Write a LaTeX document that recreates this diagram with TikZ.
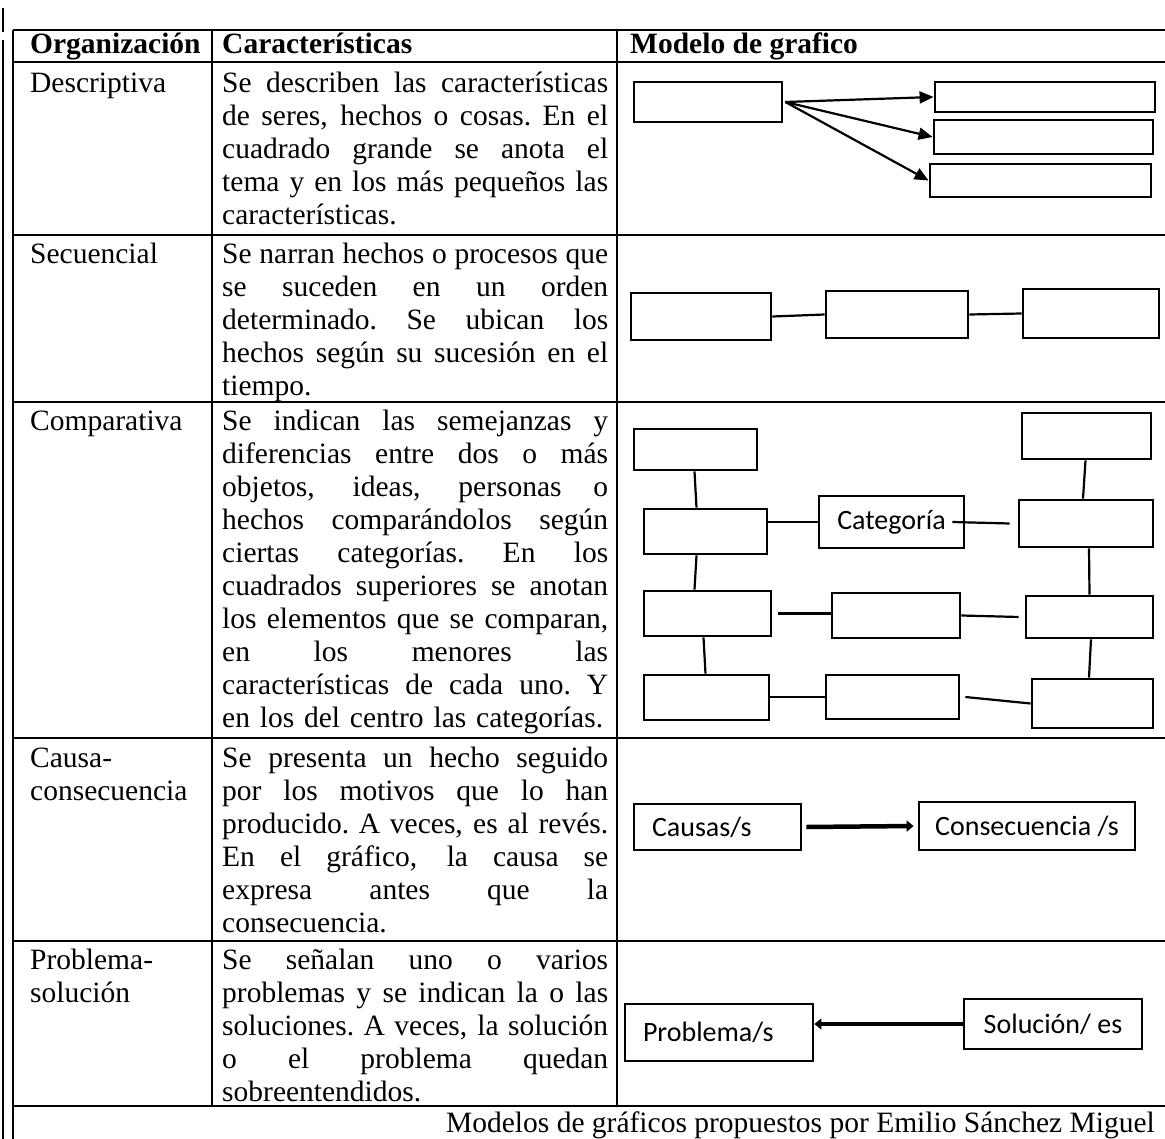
\documentclass[tikz,border=0pt]{standalone}
\usepackage{fontspec}
\setmainfont{Liberation Serif}
\newfontfamily\calib{Carlito}
\usetikzlibrary{arrows.meta}
\newcommand\jl[1]{\noindent\hbox to 386pt{\spaceskip=0.25em plus 1fil minus 0.12em\xspaceskip=\spaceskip #1}\par}
\newcommand\lastl[1]{\noindent\hbox{#1}\par}
\begin{document}
\begin{tikzpicture}[x=1pt,y=-1pt,
  grid/.style={line width=1.8pt},
  bx/.style={draw, line width=2.8pt, inner sep=0pt, font=\calib\fontsize{28}{30}\selectfont},
  conn/.style={line width=2.2pt},
  arrA/.style={line width=2.2pt, -{Triangle[length=14pt,width=12pt]}},
  arrB/.style={line width=4.5pt, -{Triangle[length=7pt,width=11pt]}},
  hd/.style={anchor=base west, inner sep=0pt, font=\bfseries\fontsize{29.5}{33}\selectfont},
  lab/.style={anchor=base west, inner sep=0pt, text width=178pt, align=left, font=\fontsize{29.5}{33}\selectfont},
  body/.style={anchor=base west, inner sep=0pt, text width=386pt, align=left, font=\fontsize{29.5}{33}\selectfont}
]
\useasboundingbox (0,0) rectangle (1165,1139);
% ---------- table frame
\draw[grid] (3,8) -- (3,32);
\draw[grid] (3,40) -- (3,1139);
\foreach \yy in {30,62,235,402,738,941,1106}{\draw[grid] (13,\yy) -- (1165,\yy);}
\draw[grid] (13,30) -- (13,1139);
\draw[grid] (212,30) -- (212,1106);
\draw[grid] (617,30) -- (617,1106);
% ---------- header
\node[hd] (h1) at (30,54) {Organización};
\node[hd] (h2) at (222,54) {Características};
\node[hd] (h3) at (630,54) {Modelo de grafico};
% ---------- column 1
\node[lab] (l1) at (30,93) {Descriptiva};
\node[lab] (l2) at (30,264) {Secuencial};
\node[lab] (l3) at (30,431) {Comparativa};
\node[lab] (l4) at (30,767) {Causa-\\consecuencia};
\node[lab] (l5) at (30,969) {Problema-\\solución};
% ---------- column 2
\node[body] (t1) at (222,93) {\jl{Se describen las características}\jl{de seres, hechos o cosas. En el}\jl{cuadrado grande se anota el}\jl{tema y en los más pequeños las}\lastl{características.}};
\node[body] (t2) at (222,264) {\jl{Se narran hechos o procesos que}\jl{se suceden en un orden}\jl{determinado. Se ubican los}\jl{hechos según su sucesión en el}\lastl{tiempo.}};
\node[body] (t3) at (222,431) {\jl{Se indican las semejanzas y}\jl{diferencias entre dos o más}\jl{objetos, ideas, personas o}\jl{hechos comparándolos según}\jl{ciertas categorías. En los}\jl{cuadrados superiores se anotan}\jl{los elementos que se comparan,}\jl{en los menores las}\jl{características de cada uno. Y}\lastl{en los del centro las categorías.}};
\node[body] (t4) at (222,767) {\jl{Se presenta un hecho seguido}\jl{por los motivos que lo han}\jl{producido. A veces, es al revés.}\jl{En el gráfico, la causa se}\jl{expresa antes que la}\lastl{consecuencia.}};
\node[body] (t5) at (222,969) {\jl{Se señalan uno o varios}\jl{problemas y se indican la o las}\jl{soluciones. A veces, la solución}\jl{o el problema quedan}\lastl{sobreentendidos.}};
% ---------- footer
\node[hd, anchor=base east, font=\fontsize{29.5}{33}\selectfont] (ft) at (1155,1132) {Modelos de gráficos propuestos por Emilio Sánchez Miguel};
% ---------- Descriptiva model
\node[bx, minimum width=148pt, minimum height=40pt] (d0) at (708,102) {};
\node[bx, minimum width=220pt, minimum height=30pt] (d1) at (1045,97) {};
\node[bx, minimum width=219pt, minimum height=34pt] (d2) at (1043.5,137) {};
\node[bx, minimum width=221pt, minimum height=33pt] (d3) at (1040.5,180.5) {};
\coordinate (ds) at ([xshift=2pt]d0.east);
\draw[arrA] (ds) -- (d1.west);
\draw[arrA] (ds) -- (d2.west);
\draw[arrA] (ds) -- (d3.west);
% ---------- Secuencial model
\node[bx, minimum width=140pt, minimum height=47pt] (s1) at (701,316.5) {};
\node[bx, minimum width=142pt, minimum height=47pt] (s2) at (897,314.5) {};
\node[bx, minimum width=136pt, minimum height=49pt] (s3) at (1091,313.5) {};
\draw[conn] (s1.east) -- (s2.west);
\draw[conn] (s2.east) -- (s3.west);
% ---------- Comparativa model
\node[bx, minimum width=123pt, minimum height=41pt] (ctl) at (695.5,449.5) {};
\node[bx, minimum width=129pt, minimum height=46pt] (ctr) at (1086.5,436) {};
\node[bx, minimum width=123pt, minimum height=45pt] (cl2) at (705.5,531.5) {};
\node[bx, minimum width=145pt, minimum height=52pt] (ccat) at (891.5,522) {Categoría};
\node[bx, minimum width=134pt, minimum height=47pt] (cr2) at (1086,523.5) {};
\node[bx, minimum width=127pt, minimum height=45pt] (cl3) at (707.5,613.5) {};
\node[bx, minimum width=128pt, minimum height=45pt] (cm3) at (896,615.5) {};
\node[bx, minimum width=127pt, minimum height=42pt] (cr3) at (1089.5,617) {};
\node[bx, minimum width=125pt, minimum height=45pt] (cl4) at (706.5,697.5) {};
\node[bx, minimum width=133pt, minimum height=44pt] (cm4) at (892.5,697) {};
\node[bx, minimum width=121pt, minimum height=49pt] (cr4) at (1092.5,703.5) {};
% vertical chains
\draw[conn] ([xshift=-1pt]ctl.south) -- ([xshift=-9pt]cl2.north);
\draw[conn] ([xshift=-9pt]cl2.south) -- ([xshift=-13pt]cl3.north);
\draw[conn] ([xshift=-4pt]cl3.south) -- ([xshift=-1pt]cl4.north);
\draw[conn] ([xshift=-1pt]ctr.south) -- ([xshift=-3pt]cr2.north);
\draw[conn] ([xshift=3pt]cr2.south) -- ([xshift=0pt]cr3.north);
\draw[conn] ([xshift=1.5pt]cr3.south) -- ([xshift=-3.5pt]cr4.north);
% horizontal links
\draw[conn] (ccat.west -| cl2.east) -- (ccat.west);
\draw[conn] ([xshift=-13pt]ccat.east) -- ([xshift=-8pt]cr2.west);
\draw[conn] ([xshift=6pt]cl3.east) -- (cl3.east -| cm3.west);
\draw[conn] (cm3.east) -- ([xshift=-6pt]cr3.west);
\draw[conn] (cm4.west -| cl4.east) -- (cm4.west);
\draw[conn] ([xshift=5pt]cm4.east) -- (cr4.west);
% ---------- Causa-consecuencia model
\node[bx, minimum width=167pt, minimum height=46pt, text width=131pt, inner xsep=18pt, align=left] (cc1) at (717.5,827) {Causas/s};
\node[bx, minimum width=216pt, minimum height=48pt] (cc2) at (1027,826) {Consecuencia /s};
\draw[arrB] ([xshift=4pt]cc1.east) -- ([xshift=-4pt]cc2.west);
% ---------- Problema-solucion model
\node[bx, minimum width=188pt, minimum height=57pt, text width=152pt, inner xsep=18pt, align=left] (p1) at (719,1032.5) {Problema/s};
\node[bx, minimum width=178pt, minimum height=50pt] (p2) at (1053,1024) {Solución/ es};
\draw[arrB] (p2.west) -- (p2.west -| p1.east);
\end{tikzpicture}
\end{document}
